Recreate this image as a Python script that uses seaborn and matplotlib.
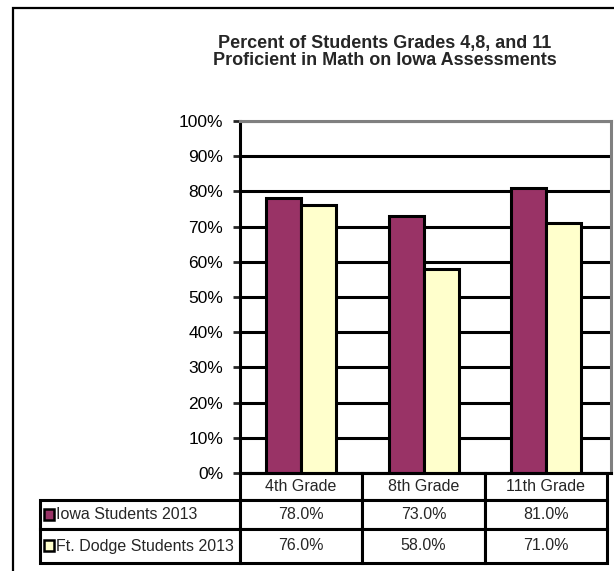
import pandas as pd
import seaborn as sns
import matplotlib.pyplot as plt
from matplotlib.patches import Rectangle
from matplotlib.ticker import FuncFormatter

# chart data
grades = ['4th Grade', '8th Grade', '11th Grade']
series = ['Iowa Students 2013', 'Ft. Dodge Students 2013']
iowa = [78.0, 73.0, 81.0]
ft_dodge = [76.0, 58.0, 71.0]
colors = ['#993366', '#FFFFCC']

df = pd.DataFrame({
    'grade': grades * 2,
    'group': [series[0]] * 3 + [series[1]] * 3,
    'pct': iowa + ft_dodge,
})

sns.set_style('white')
plt.rcParams['font.family'] = ['Liberation Sans', 'DejaVu Sans']

W, H = 614, 571
fig = plt.figure(figsize=(W / 100, H / 100), dpi=100)

# outer frame (runs off the right and bottom edges)
fig.patches.append(Rectangle((13 / W, -0.1), 1.2, 1.1 - 8 / H, transform=fig.transFigure,
                             fill=False, edgecolor='black', linewidth=1.6))

# plot area in pixels
left, right, top, bottom = 240, 611, 121, 473
ax = fig.add_axes([left / W, 1 - bottom / H, (right - left) / W, (bottom - top) / H])

sns.barplot(data=df, x='grade', y='pct', hue='group', order=grades, hue_order=series,
            palette=colors, width=0.57, edgecolor='black', linewidth=2.2,
            saturation=1, legend=False, ax=ax)

ax.set_ylim(0, 100)
ax.set_xlim(-0.5, 2.53)
ax.set_yticks(range(0, 101, 10))
ax.yaxis.set_major_formatter(FuncFormatter(lambda v, p: f'{int(v)}%'))
ax.set_axisbelow(True)
ax.yaxis.grid(True, color='black', linewidth=2.2)
ax.xaxis.grid(False)
ax.tick_params(axis='y', direction='out', length=5, width=2, pad=7, labelsize=12.5,
               left=True, labelcolor='black')
ax.tick_params(axis='x', bottom=False, labelbottom=False)
ax.set_xlabel('')
ax.set_ylabel('')
for side in ['top', 'right']:
    ax.spines[side].set_color('#808080')
    ax.spines[side].set_linewidth(2.2)
for side in ['left', 'bottom']:
    ax.spines[side].set_color('black')
    ax.spines[side].set_linewidth(2.2)

# data table under the chart; sizes given in axes fractions so the bbox does not rescale
tab_right, tab_bottom = 607, 563
label_w = 200
col_w = (tab_right - left) / 3
row_h = [27, 29, 34]
ah = bottom - top
aw = right - left
cell_text = [[f'{v:.1f}%' for v in iowa], [f'{v:.1f}%' for v in ft_dodge]]
tbl = ax.table(cellText=cell_text, rowLabels=series, colLabels=grades,
               cellLoc='center', rowLoc='left',
               colWidths=[col_w / aw] * 3,
               bbox=[0, -(tab_bottom - bottom) / ah,
                     (tab_right - left) / aw, (tab_bottom - bottom) / ah])
# ax.table always auto-sizes the row label column, keep a fixed width instead
tbl._autoColumns.clear()
tbl.auto_set_font_size(False)
tbl.set_fontsize(11.5)
for (r, c), cell in tbl.get_celld().items():
    cell.set_linewidth(2.2)
    cell.set_edgecolor('black')
    cell.set_height(row_h[r] / ah)
    if c == -1:
        cell.set_width(label_w / aw)
        cell.PAD = 0.08

# legend keys inside the row labels
y0 = bottom + row_h[0]
for i, col in enumerate(colors):
    cy = y0 + row_h[i + 1] / 2
    y0 += row_h[i + 1]
    ax.add_patch(Rectangle(((left - label_w + 4 - left) / aw, (bottom - cy - 5) / ah),
                           10 / aw, 11 / ah,
                           transform=ax.transAxes, facecolor=col, edgecolor='black',
                           linewidth=1.8, clip_on=False, zorder=5))

fig.text(385 / W, 1 - 52 / H,
         'Percent of Students Grades 4,8, and 11\nProficient in Math on Iowa Assessments',
         ha='center', va='center', fontsize=13, fontweight='bold', linespacing=0.95)

fig.savefig('out.png', dpi=100, facecolor='white')
